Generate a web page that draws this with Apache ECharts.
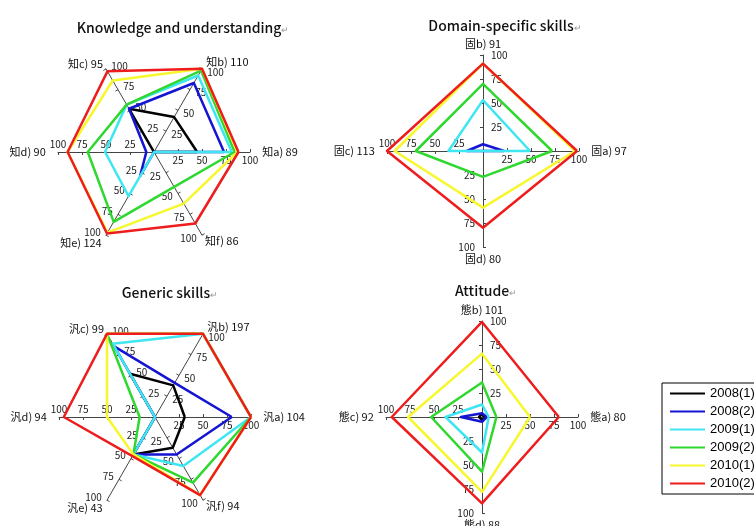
<!DOCTYPE html>
<html>
<head>
<meta charset="utf-8">
<script src="https://cdn.jsdelivr.net/npm/echarts@6/dist/echarts.min.js"></script>
<style>
  html, body { margin: 0; padding: 0; background: #fff; }
  #main { width: 754px; height: 526px; }
</style>
</head>
<body>
<div id="main"></div>
<script>
// legend names and line colours
var years = ['2008(1)', '2008(2)', '2009(1)', '2009(2)', '2010(1)', '2010(2)'];
var yearColors = ['#000000', '#1414d2', '#3ee6f2', '#2ed82e', '#f7f72e', '#ee1c1c'];

// axis names (a, b, c ... counter-clockwise from the right)
var knowAxes = ['知a) 89', '知b) 110', '知c) 95', '知d) 90', '知e) 124', '知f) 86'];
var domainAxes = ['固a) 97', '固b) 91', '固c) 113', '固d) 80'];
var genericAxes = ['汎a) 104', '汎b) 197', '汎c) 99', '汎d) 94', '汎e) 43', '汎f) 94'];
var attitudeAxes = ['態a) 80', '態b) 101', '態c) 92', '態d) 88'];

// values per year, same order as the years array
var knowValues = [
  [45, 42, 52, 0, 0, 0],
  [73, 83, 52, 8, 29, 0],
  [81, 92, 57, 51, 53, 0],
  [84, 98, 57, 69, 84, 42],
  [87, 100, 86, 90, 97, 62],
  [88, 100, 97, 90, 98, 86]
];
var domainValues = [
  [0, 0, 0, 0],
  [22, 7, 17, 0],
  [49, 53, 36, 0],
  [72, 70, 70, 27],
  [96, 91, 92, 59],
  [98, 91, 100, 80]
];
var genericValues = [
  [31, 38, 52, 0, 45, 37],
  [80, 41, 85, 0, 45, 45],
  [100, 100, 88, 0, 45, 59],
  [100, 100, 100, 16, 45, 79],
  [100, 100, 100, 50, 45, 94],
  [100, 100, 100, 95, 47, 94]
];
var attitudeValues = [
  [3, 3, 3, 3],
  [5, 4, 22, 5],
  [7, 13, 38, 37],
  [15, 36, 53, 57],
  [50, 66, 77, 78],
  [80, 99, 94, 90]
];

var titles = ['Knowledge and understanding', 'Domain-specific skills', 'Generic skills', 'Attitude'];

var jp = '"Noto Sans CJK JP", "Noto Sans", sans-serif';

// tick labels sit on the clockwise side of each axis in the original
function labelFor(angle) {
  var a = ((angle % 360) + 360) % 360;
  if (a === 0) return { margin: -3, align: 'center', verticalAlign: 'top' };
  if (a === 180) return { margin: -3, align: 'center', verticalAlign: 'bottom' };
  if (a === 90) return { margin: -8, align: 'left', verticalAlign: 'middle' };
  if (a === 270) return { margin: -8, align: 'right', verticalAlign: 'middle' };
  if (a < 180) return { margin: -6, align: 'left', verticalAlign: 'middle' };
  return { margin: -6, align: 'right', verticalAlign: 'middle' };
}

function makeRadar(names, center) {
  var step = 360 / names.length;
  return {
    center: center,
    radius: 96,
    startAngle: 0,
    splitNumber: 4,
    shape: 'polygon',
    nameGap: 6,
    indicator: names.map(function (n, i) {
      return { name: n, min: 0, max: 100, axisLabel: labelFor(i * step) };
    }),
    axisName: { color: '#111', fontSize: 11, fontFamily: jp },
    axisLine: { show: true, lineStyle: { color: '#444', width: 1 } },
    axisTick: { show: true, length: 3, lineStyle: { color: '#444' } },
    axisLabel: { show: true, showMinLabel: false, fontSize: 10, color: '#222', fontFamily: jp },
    splitLine: { show: false },
    splitArea: { show: false }
  };
}

function makeSeries(idx, values) {
  return {
    type: 'radar',
    radarIndex: idx,
    symbol: 'none',
    silent: true,
    data: years.map(function (y, k) {
      return {
        name: y,
        value: values[k],
        lineStyle: { color: yearColors[k], width: 2.5 },
        itemStyle: { color: yearColors[k] }
      };
    })
  };
}

function makeTitle(text, x, y) {
  return {
    text: text + '{r|↵}',
    left: x,
    top: y,
    textAlign: 'center',
    textStyle: {
      fontSize: 14,
      fontWeight: 500,
      color: '#111',
      fontFamily: jp,
      rich: { r: { fontSize: 9, color: '#999', padding: [4, 0, 0, 0] } }
    }
  };
}

var chart = echarts.init(document.getElementById('main'));
chart.setOption({
  animation: false,
  color: yearColors,
  title: [
    makeTitle(titles[0], 178, 16),
    makeTitle(titles[1], 500, 14),
    makeTitle(titles[2], 165, 281),
    makeTitle(titles[3], 481, 279)
  ],
  legend: {
    orient: 'vertical',
    left: 662,
    top: 383,
    padding: [4, 40, 4, 8],
    itemGap: 5,
    itemWidth: 35,
    itemHeight: 2,
    icon: 'rect',
    borderColor: '#000',
    borderWidth: 1,
    borderRadius: 0,
    data: years,
    textStyle: { fontSize: 13, color: '#000', fontFamily: '"Liberation Sans", Arial, sans-serif' }
  },
  radar: [
    makeRadar(knowAxes, [154, 152]),
    makeRadar(domainAxes, [483, 151]),
    makeRadar(genericAxes, [155, 417]),
    makeRadar(attitudeAxes, [482, 417])
  ],
  series: [
    makeSeries(0, knowValues),
    makeSeries(1, domainValues),
    makeSeries(2, genericValues),
    makeSeries(3, attitudeValues)
  ]
});
</script>
</body>
</html>
